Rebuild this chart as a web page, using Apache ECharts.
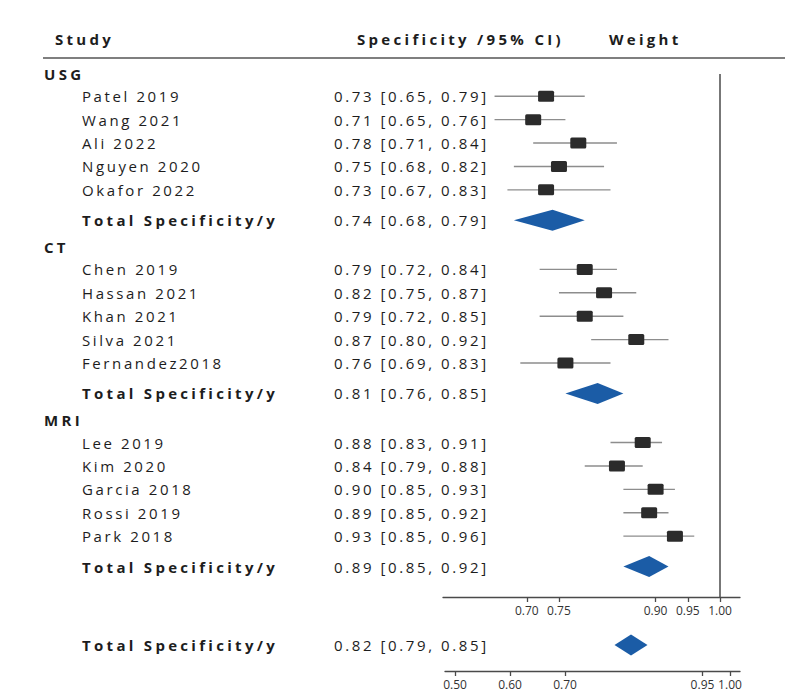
<!DOCTYPE html>
<html>
<head>
<meta charset="utf-8">
<script src="https://cdn.jsdelivr.net/npm/echarts@6/dist/echarts.min.js"></script>
<style>
  html, body { margin: 0; padding: 0; background: #fff; }
  #chart { width: 797px; height: 693px; }
  /* widely tracked table text; axis numbers stay compact */
  #chart text[style*="15px"] { letter-spacing: 2.6px; }
  #chart text[style*="bold"][style*="15px"] { letter-spacing: 3.3px; }
</style>
</head>
<body>
<div id="chart"></div>
<script>
// ---- data ----
const groupNames = ['USG', 'CT', 'MRI'];

const usgStudies = ['Patel 2019', 'Wang 2021', 'Ali 2022', 'Nguyen 2020', 'Okafor 2022'];
const usgEst  = [0.73, 0.71, 0.78, 0.75, 0.73];
const usgLow  = [0.65, 0.65, 0.71, 0.68, 0.67];
const usgHigh = [0.79, 0.76, 0.84, 0.82, 0.83];
const usgTotal = [0.74, 0.68, 0.79];

const ctStudies = ['Chen 2019', 'Hassan 2021', 'Khan 2021', 'Silva 2021', 'Fernandez2018'];
const ctEst  = [0.79, 0.82, 0.79, 0.87, 0.76];
const ctLow  = [0.72, 0.75, 0.72, 0.80, 0.69];
const ctHigh = [0.84, 0.87, 0.85, 0.92, 0.83];
const ctTotal = [0.81, 0.76, 0.85];

const mriStudies = ['Lee 2019', 'Kim 2020', 'Garcia 2018', 'Rossi 2019', 'Park 2018'];
const mriEst  = [0.88, 0.84, 0.90, 0.89, 0.93];
const mriLow  = [0.83, 0.79, 0.85, 0.85, 0.85];
const mriHigh = [0.91, 0.88, 0.93, 0.92, 0.96];
const mriTotal = [0.89, 0.85, 0.92];

const overallTotal = [0.82, 0.79, 0.85];

const subgroupTicks = [0.70, 0.75, 0.90, 0.95, 1.00];
const overallTicks  = [0.50, 0.60, 0.70, 0.95, 1.00];
const referenceValue = 1.00;

const totalLabel = 'Total Specificity/y';
const headStudy = 'Study';
const headCI = 'Specificity /95% CI)';
const headWeight = 'Weight';

// ---- row layout (in row units) ----
const groupData = [
  { studies: usgStudies, est: usgEst, low: usgLow, high: usgHigh, total: usgTotal },
  { studies: ctStudies,  est: ctEst,  low: ctLow,  high: ctHigh,  total: ctTotal },
  { studies: mriStudies, est: mriEst, low: mriLow, high: mriHigh, total: mriTotal }
];
const STEP_HEAD_TO_STUDY = 0.95, STEP_STUDY = 1, STEP_TO_TOTAL = 1.3, STEP_TO_NEXT = 1.15;

const rows = [];
let pos = 0;
groupData.forEach((g, gi) => {
  rows.push({ kind: 'header', name: groupNames[gi], pos: pos });
  pos += STEP_HEAD_TO_STUDY;
  g.studies.forEach((s, i) => {
    if (i > 0) pos += STEP_STUDY;
    rows.push({ kind: 'study', name: s, est: g.est[i], low: g.low[i], high: g.high[i], pos: pos });
  });
  pos += STEP_TO_TOTAL;
  rows.push({ kind: 'total', name: totalLabel, est: g.total[0], low: g.total[1], high: g.total[2], pos: pos });
  pos += STEP_TO_NEXT;
});
const overallRows = [{ kind: 'total', name: totalLabel, est: overallTotal[0], low: overallTotal[1], high: overallTotal[2], pos: 1 }];

// ---- drawing ----
const FONT = '"Open Sans", "DejaVu Sans", sans-serif';
const TEXT_COLOR = '#1d1d1d';
const NAME_X = 82, HEAD_X = 44, VALUE_X = 334;

function fmt(v) { return v.toFixed(2); }
function ciText(r) { return fmt(r.est) + ' [' + fmt(r.low) + ', ' + fmt(r.high) + ']'; }

function textEl(str, x, y, bold) {
  return {
    type: 'text', x: x, y: y, silent: true,
    style: {
      text: str, fill: TEXT_COLOR, fontSize: 15, fontFamily: FONT,
      fontWeight: bold ? 'bold' : 'normal',
      textAlign: 'left', textVerticalAlign: 'middle', align: 'left', verticalAlign: 'middle'
    }
  };
}

function makeRenderer(list) {
  return function (params, api) {
    const r = list[params.dataIndex];
    const y = api.coord([api.value(0), api.value(1)])[1];
    const children = [];
    if (r.kind === 'header') {
      children.push(textEl(r.name, HEAD_X, y, true));
      return { type: 'group', children: children };
    }
    children.push(textEl(r.name, NAME_X, y, r.kind === 'total'));
    children.push(textEl(ciText(r), VALUE_X, y, false));
    const xe = api.coord([api.value(0), api.value(1)])[0];
    const xl = api.coord([api.value(2), api.value(1)])[0];
    const xh = api.coord([api.value(3), api.value(1)])[0];
    if (r.kind === 'study') {
      children.push({
        type: 'line', silent: true,
        shape: { x1: xl, y1: y, x2: xh, y2: y },
        style: { stroke: '#8d8d8d', lineWidth: 1.4 }
      });
      children.push({
        type: 'rect', silent: true,
        shape: { x: xe - 8, y: y - 5.5, width: 16, height: 11, r: 1.5 },
        style: { fill: '#2b2b2b' }
      });
    } else {
      children.push({
        type: 'polygon', silent: true,
        shape: { points: [[xl, y], [xe, y - 10.5], [xh, y], [xe, y + 10.5]] },
        style: { fill: '#1b5ca6' }
      });
    }
    return { type: 'group', children: children };
  };
}

function seriesData(list) {
  return list.map(r => r.kind === 'header'
    ? [0.9, r.pos, 0.9, 0.9]
    : [r.est, r.pos, r.low, r.high]);
}

const axisLabelStyle = { fontSize: 12, color: '#333', fontFamily: FONT, margin: 7, formatter: v => fmt(v) };
const axisLineStyle = { color: '#4a4a4a', width: 1.3 };

const chart = echarts.init(document.getElementById('chart'), null, { renderer: 'svg' });
chart.setOption({
  animation: false,
  backgroundColor: '#ffffff',
  grid: [
    { left: 443, top: 74, width: 297, height: 523 },
    { left: 445, top: 619, width: 295, height: 52 }
  ],
  xAxis: [
    {
      gridIndex: 0, type: 'value', min: 0.57, max: 1.031, position: 'bottom',
      axisLine: { show: true, onZero: false, lineStyle: axisLineStyle },
      axisTick: { show: true, customValues: subgroupTicks, length: 5, lineStyle: axisLineStyle },
      axisLabel: Object.assign({ customValues: subgroupTicks }, axisLabelStyle),
      splitLine: { show: false }
    },
    {
      gridIndex: 1, type: 'value', min: 0.4818, max: 1.0182, position: 'bottom',
      axisLine: { show: true, onZero: false, lineStyle: axisLineStyle },
      axisTick: { show: true, customValues: overallTicks, length: 5, lineStyle: axisLineStyle },
      axisLabel: Object.assign({ customValues: overallTicks }, axisLabelStyle),
      splitLine: { show: false }
    }
  ],
  yAxis: [
    { gridIndex: 0, type: 'value', inverse: true, min: 0, max: 22.35, show: false },
    { gridIndex: 1, type: 'value', inverse: true, min: 0, max: 2, show: false }
  ],
  graphic: [
    { type: 'text', left: 55, top: 31, style: { text: headStudy, fontSize: 15, fontWeight: 'bold', fontFamily: FONT, fill: TEXT_COLOR } },
    { type: 'text', left: 357, top: 31, style: { text: headCI, fontSize: 15, fontWeight: 'bold', fontFamily: FONT, fill: TEXT_COLOR } },
    { type: 'text', left: 609, top: 31, style: { text: headWeight, fontSize: 15, fontWeight: 'bold', fontFamily: FONT, fill: TEXT_COLOR } },
    { type: 'line', shape: { x1: 43, y1: 58, x2: 785, y2: 58 }, style: { stroke: '#555', lineWidth: 1.5 } }
  ],
  series: [
    {
      type: 'custom', xAxisIndex: 0, yAxisIndex: 0,
      encode: { x: [0, 2, 3], y: 1 },
      renderItem: makeRenderer(rows),
      data: seriesData(rows),
      markLine: {
        silent: true, symbol: 'none', label: { show: false },
        lineStyle: { color: '#4a4a4a', width: 1.5, type: 'solid' },
        data: [{ xAxis: referenceValue }]
      }
    },
    {
      type: 'custom', xAxisIndex: 1, yAxisIndex: 1,
      encode: { x: [0, 2, 3], y: 1 },
      renderItem: makeRenderer(overallRows),
      data: seriesData(overallRows)
    }
  ]
});
</script>
</body>
</html>
